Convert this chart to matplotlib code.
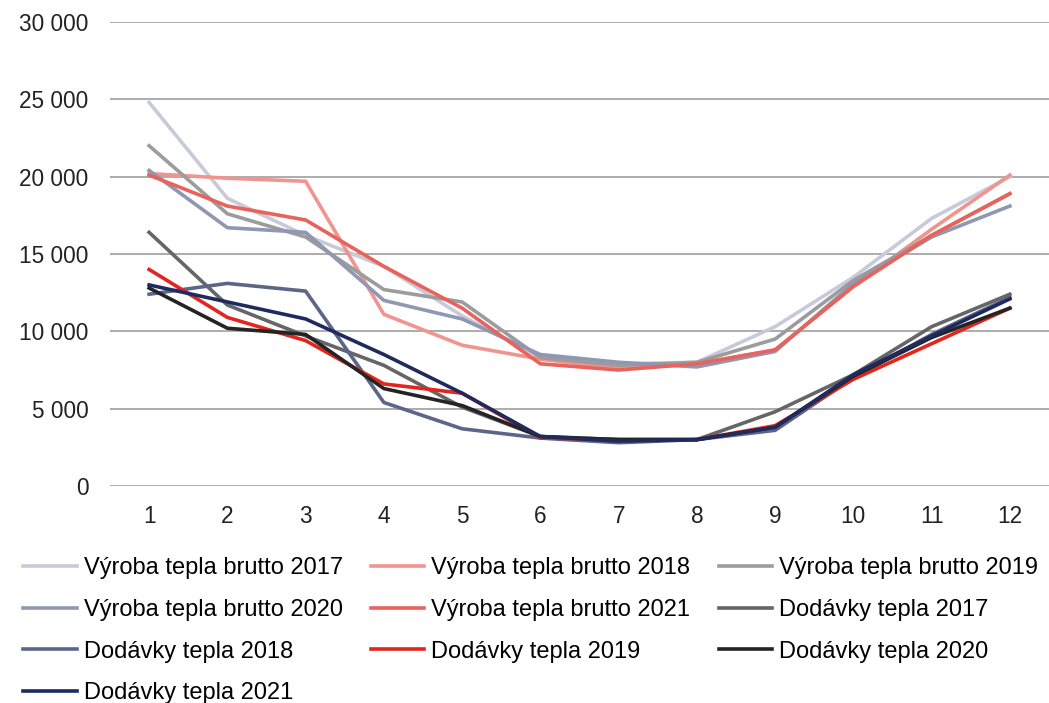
import numpy as np
import matplotlib
matplotlib.use('Agg')
from matplotlib import pyplot as plt
from matplotlib.ticker import FuncFormatter

months = list(range(1, 13))

# výroba tepla brutto
vyroba_2017 = [24.8, 18.6, 16.2, 14.2, 11.0, 8.3, 7.9, 8.0, 10.3, 13.5, 17.3, 20.0]
vyroba_2018 = [20.2, 19.9, 19.7, 11.1, 9.1, 8.2, 7.6, 7.9, 8.8, 12.9, 16.6, 20.1]
vyroba_2019 = [22.0, 17.6, 16.1, 12.7, 11.9, 8.3, 7.8, 8.0, 9.5, 13.3, 16.2, 18.9]
vyroba_2020 = [20.4, 16.7, 16.4, 12.0, 10.8, 8.5, 8.0, 7.7, 8.7, 13.1, 16.1, 18.1]
vyroba_2021 = [20.1, 18.1, 17.2, 14.2, 11.5, 7.9, 7.5, 7.9, 8.8, 12.9, 16.2, 18.9]

# dodávky tepla
dodavky_2017 = [16.4, 11.7, 9.7, 7.8, 5.1, 3.2, 3.0, 3.0, 4.8, 7.2, 10.3, 12.4]
dodavky_2018 = [12.4, 13.1, 12.6, 5.4, 3.7, 3.1, 2.8, 3.0, 3.6, 7.0, 9.8, 12.2]
dodavky_2019 = [14.0, 10.9, 9.4, 6.6, 6.0, 3.1, 3.0, 3.0, 3.9, 6.9, 9.2, 11.5]
dodavky_2020 = [12.8, 10.2, 9.8, 6.3, 5.2, 3.2, 3.0, 3.0, 3.8, 7.1, 9.6, 11.5]
dodavky_2021 = [13.0, 11.9, 10.8, 8.5, 6.0, 3.2, 2.9, 3.0, 3.8, 7.2, 9.7, 12.1]

series = [
    ('Výroba tepla brutto 2017', vyroba_2017, '#c9cad9'),
    ('Výroba tepla brutto 2018', vyroba_2018, '#f19490'),
    ('Výroba tepla brutto 2019', vyroba_2019, '#9c9c9c'),
    ('Výroba tepla brutto 2020', vyroba_2020, '#8f97b2'),
    ('Výroba tepla brutto 2021', vyroba_2021, '#e9625c'),
    ('Dodávky tepla 2017', dodavky_2017, '#666666'),
    ('Dodávky tepla 2018', dodavky_2018, '#5b6689'),
    ('Dodávky tepla 2019', dodavky_2019, '#e2261d'),
    ('Dodávky tepla 2020', dodavky_2020, '#242424'),
    ('Dodávky tepla 2021', dodavky_2021, '#1f2a5e'),
]

plt.rcParams['font.family'] = ['Liberation Sans', 'DejaVu Sans']

fig = plt.figure(figsize=(10.49, 7.03), dpi=100)
ax = fig.add_axes([110 / 1049, 1 - 486 / 703, 939 / 1049, 464 / 703])

handles = []
for name, vals, col in series:
    h, = ax.plot(months, np.array(vals) * 1000, color=col, lw=2.6, label=name)
    handles.append(h)

ax.set_xlim(0.5, 12.5)
ax.set_ylim(0, 30000)
ax.set_xticks(months)
ax.set_yticks(range(0, 30001, 5000))
ax.yaxis.set_major_formatter(FuncFormatter(lambda v, p: f'{int(v):,}'.replace(',', ' ')))
ax.grid(axis='y', color='#a6a6a6', lw=1.3)
ax.set_axisbelow(True)
for s in ax.spines.values():
    s.set_visible(False)
ax.tick_params(length=0, labelsize=16.3, colors='#222222')
ax.tick_params(axis='x', pad=14)
ax.tick_params(axis='y', pad=15.5)

# legenda se plní po sloupcích, tak přeskládat na pořadí po řádcích
order = [0, 3, 6, 9, 1, 4, 7, 2, 5, 8]
fig.legend([handles[i] for i in order], [series[i][0] for i in order],
           loc='upper left', bbox_to_anchor=(14 / 1049, 1 - 548 / 703), ncol=3,
           frameon=False, fontsize=17, handlelength=2.25, handletextpad=0.3,
           columnspacing=1.2, labelspacing=0.83, borderaxespad=0)

fig.savefig('out.png', dpi=100)
